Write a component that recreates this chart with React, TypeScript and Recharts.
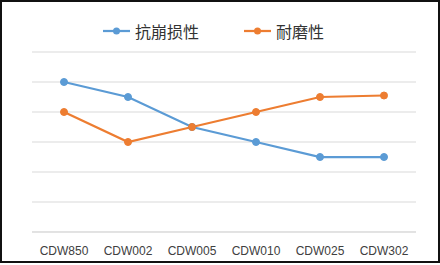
import React from 'react';
import { LineChart, Line, XAxis, YAxis, CartesianGrid } from 'recharts';

const categories = ['CDW850', 'CDW002', 'CDW005', 'CDW010', 'CDW025', 'CDW302'];
const antiCollapse = [5, 4.5, 3.5, 3, 2.5, 2.5];
const wearResistance = [4, 3, 3.5, 4, 4.5, 4.55];
const seriesNames = ['抗崩损性', '耐磨性'];
const yTicks = [0, 1, 2, 3, 4, 5, 6];

const data = categories.map((c, i) => ({ name: c, a: antiCollapse[i], b: wearResistance[i] }));

const BLUE = '#5B9BD5';
const ORANGE = '#ED7D31';
const legendItems = [
  { name: seriesNames[0], color: BLUE },
  { name: seriesNames[1], color: ORANGE },
];

export default function App() {
  return (
    <div style={{ position: 'absolute', left: 0, top: 0, width: 440, height: 265, background: '#fff' }}>
      <div style={{ position: 'absolute', left: 0, top: 0 }}>
        <LineChart width={440} height={265} data={data} margin={{ top: 52, right: 24, left: 32, bottom: 0 }}>
          <CartesianGrid vertical={false} stroke="#D9D9D9" strokeWidth={1} />
          <XAxis dataKey="name" height={33} tickLine={false} axisLine={{ stroke: '#D9D9D9' }} padding={{ left: 32, right: 32 }} tick={{ fill: '#404040', fontSize: 12, fontFamily: '"Liberation Sans", sans-serif' }} tickMargin={8} interval={0} />
          <YAxis hide domain={[0, 6]} ticks={yTicks} />
          <Line name={seriesNames[0]} dataKey="a" stroke={BLUE} strokeWidth={2.25} dot={{ r: 3.5, fill: BLUE, stroke: BLUE, strokeWidth: 1 }} isAnimationActive={false} />
          <Line name={seriesNames[1]} dataKey="b" stroke={ORANGE} strokeWidth={2.25} dot={{ r: 3.5, fill: ORANGE, stroke: ORANGE, strokeWidth: 1 }} isAnimationActive={false} />
        </LineChart>
      </div>
      <div style={{ position: 'absolute', left: 103, top: 20, height: 22, display: 'flex', alignItems: 'center', gap: 45, fontFamily: '"Noto Sans CJK SC", sans-serif', fontSize: 16, lineHeight: '22px', color: '#333' }}>
        {legendItems.map((p) => (
          <div key={p.name} style={{ display: 'flex', alignItems: 'center' }}>
            <svg width={27} height={10} style={{ marginRight: 5 }}>
              <line x1={0} y1={5} x2={27} y2={5} stroke={p.color} strokeWidth={2.25} />
              <circle cx={13.5} cy={5} r={3.5} fill={p.color} />
            </svg>
            <span>{p.name}</span>
          </div>
        ))}
      </div>
      <div style={{ position: 'absolute', left: 0, top: 0, width: 440, height: 263, border: '2px solid #111', boxSizing: 'border-box' }} />
    </div>
  );
}
